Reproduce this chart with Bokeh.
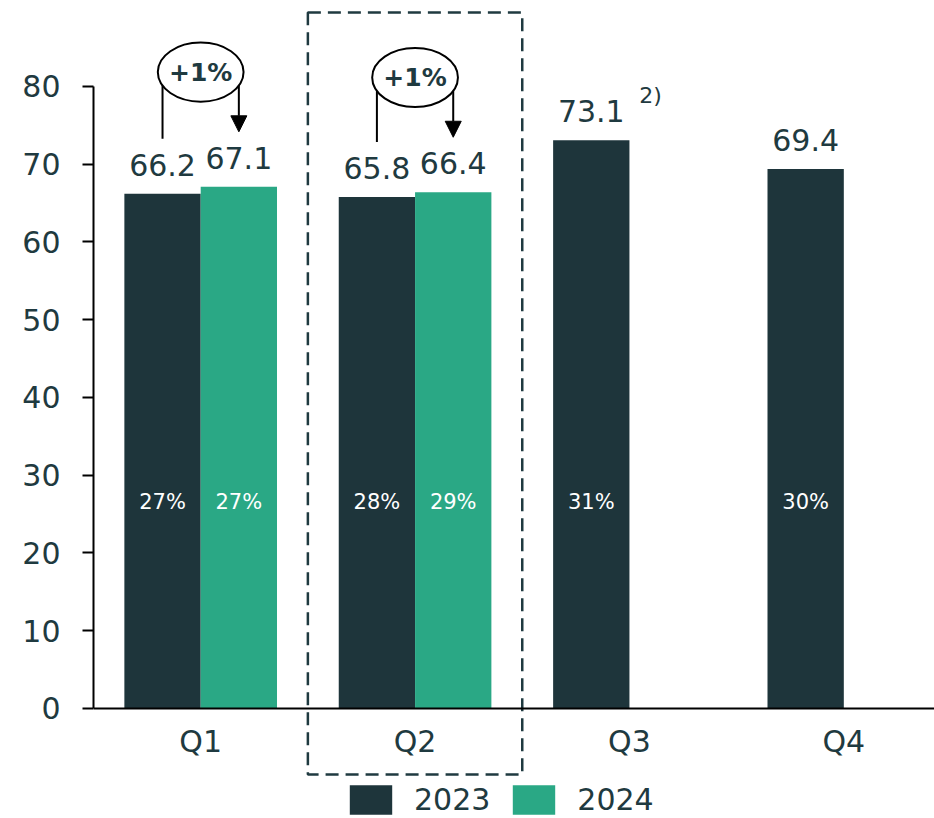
from bokeh.plotting import figure
from bokeh.models import (Range1d, FixedTicker, LinearAxis, Legend, LegendItem,
                          Arrow, NormalHead, ColumnDataSource)
from bokeh.core.properties import value
from bokeh.embed import file_html
from bokeh.resources import INLINE

# ---------------- data ----------------
quarters = ["Q1", "Q2", "Q3", "Q4"]
values_2023 = [66.2, 65.8, 73.1, 69.4]
values_2024 = [67.1, 66.4]
shares_2023 = ["27%", "28%", "31%", "30%"]
shares_2024 = ["27%", "29%"]
footnotes_2023 = ["", "", "2)", ""]
growth_labels = ["+1%", "+1%"]
y_ticks = [0, 10, 20, 30, 40, 50, 60, 70, 80]
series_names = ["2023", "2024"]
highlight_quarter = "Q2"

# ---------------- style ----------------
DARK = "#1e353b"
GREEN = "#2aa885"
TEXT = "#1f3a40"
FONT = "DejaVu Sans"
BAR_W = 0.356
OFF = 0.178

p = figure(width=934, height=818,
           x_range=Range1d(-0.5, 3.423), y_range=Range1d(-14.15, 90.03),
           output_backend="svg", toolbar_location=None,
           x_axis_location=None, y_axis_location=None,
           min_border_left=93, min_border_right=0,
           min_border_top=8, min_border_bottom=0)
p.outline_line_color = None
p.grid.visible = False

idx23 = list(range(len(values_2023)))
idx24 = list(range(len(values_2024)))

src23 = ColumnDataSource(dict(x=[i - OFF for i in idx23], top=values_2023,
                              share=shares_2023,
                              label=[f"{v:.1f}" for v in values_2023],
                              note=footnotes_2023))
src24 = ColumnDataSource(dict(x=[i + OFF for i in idx24], top=values_2024,
                              share=shares_2024,
                              label=[f"{v:.1f}" for v in values_2024]))

# highlight box around Q2
hq = quarters.index(highlight_quarter)
p.quad(left=[hq - 0.5], right=[hq + 0.5], top=[89.5], bottom=[-8.5],
       fill_alpha=0, line_color=TEXT, line_width=2.5, line_dash="13 7")

r23 = p.vbar(x="x", top="top", width=BAR_W, source=src23,
             fill_color=DARK, line_color=None)
r24 = p.vbar(x="x", top="top", width=BAR_W, source=src24,
             fill_color=GREEN, line_color=None)

# value labels
for src in (src23, src24):
    p.text(x="x", y="top", text="label", source=src, y_offset=-29,
           text_align="center", text_baseline="alphabetic",
           text_font=value(FONT), text_font_size="30px", text_color=TEXT)
    p.text(x="x", y=26.5, text="share", source=src,
           text_align="center", text_baseline="middle",
           text_font=value(FONT), text_font_size="21px", text_color="white")

# footnote superscript
p.text(x="x", y="top", text="note", source=src23, x_offset=48, y_offset=-45,
       text_align="left", text_baseline="alphabetic",
       text_font=value(FONT), text_font_size="22px", text_color=TEXT)

# growth annotations
LIFT = 7.07
ELL = 14.75
for i, g in enumerate(growth_labels):
    v0, v1 = values_2023[i], values_2024[i]
    cy = max(v0, v1) + ELL
    p.segment(x0=[i - OFF], y0=[v0 + LIFT], x1=[i - OFF], y1=[cy],
              line_color="black", line_width=2)
    p.add_layout(Arrow(x_start=i + OFF, y_start=cy, x_end=i + OFF, y_end=v1 + LIFT,
                       line_color="black", line_width=2, level="underlay",
                       end=NormalHead(size=16, fill_color="black",
                                      line_color="black", line_width=1)))
    p.ellipse(x=[i], y=[cy], width=0.4, height=7.6,
              fill_color="white", line_color="black", line_width=2)
    p.text(x=[i], y=[cy], text=[g], text_align="center", text_baseline="middle",
           text_font=value(FONT), text_font_size="25px", text_font_style="bold",
           text_color=TEXT)

# axes
yaxis = LinearAxis(bounds=(0, 80), ticker=FixedTicker(ticks=y_ticks))
yaxis.axis_line_color = "black"
yaxis.axis_line_width = 2
yaxis.major_tick_line_color = "black"
yaxis.major_tick_line_width = 2
yaxis.major_tick_out = 11
yaxis.major_tick_in = 0
yaxis.minor_tick_line_color = None
yaxis.major_label_standoff = 22
yaxis.major_label_text_font = FONT
yaxis.major_label_text_font_size = "30px"
yaxis.major_label_text_color = TEXT
p.add_layout(yaxis, "left")

xaxis = LinearAxis(fixed_location=0, ticker=FixedTicker(ticks=idx23),
                   major_label_overrides={i: q for i, q in enumerate(quarters)})
xaxis.axis_line_color = "black"
xaxis.axis_line_width = 2
xaxis.major_tick_line_color = None
xaxis.minor_tick_line_color = None
xaxis.major_tick_out = 0
xaxis.major_tick_in = 0
xaxis.major_label_standoff = 16
xaxis.major_label_text_font = FONT
xaxis.major_label_text_font_size = "30px"
xaxis.major_label_text_color = TEXT
p.add_layout(xaxis, "below")

legend = Legend(items=[LegendItem(label=series_names[0], renderers=[r23]),
                       LegendItem(label=series_names[1], renderers=[r24])],
                orientation="horizontal", location=(251, 0),
                glyph_width=53, glyph_height=37, label_standoff=17, spacing=17,
                padding=0, margin=0, border_line_color=None,
                background_fill_alpha=0,
                label_text_font=FONT, label_text_font_size="30px",
                label_text_color=TEXT)
p.add_layout(legend)

open("out.html", "w").write(file_html(p, INLINE))
